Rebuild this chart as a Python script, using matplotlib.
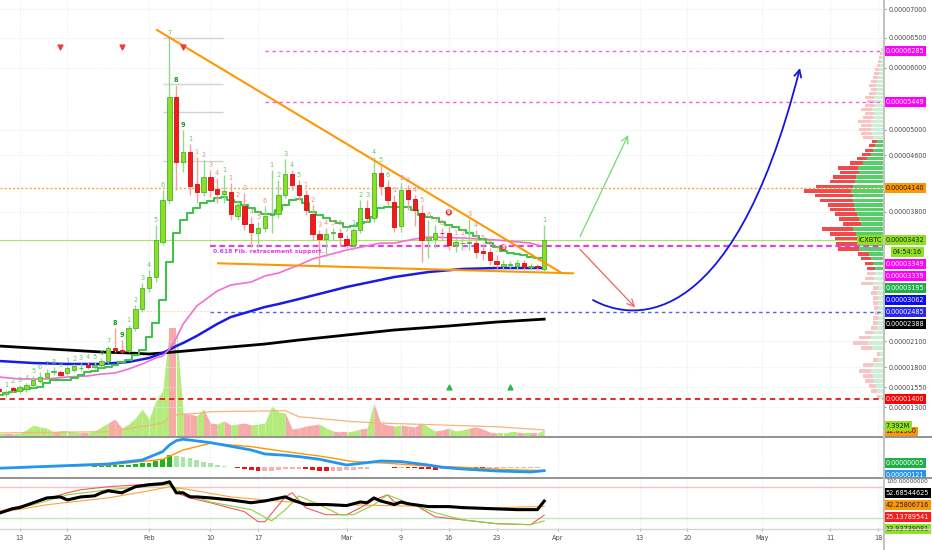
import numpy as np
import pandas as pd
import matplotlib
matplotlib.use("Agg")
import matplotlib.pyplot as plt
import matplotlib.dates as mdates
from matplotlib import font_manager
from matplotlib.lines import Line2D
from matplotlib.patches import FancyArrowPatch, Rectangle
from matplotlib.path import Path
from matplotlib.ticker import FixedLocator, FuncFormatter, NullLocator
from matplotlib.transforms import blended_transform_factory

W, H = 932, 550

avail = {f.name for f in font_manager.fontManager.ttflist}
if "Liberation Sans Narrow" in avail:
    FONT, FS = "Liberation Sans Narrow", 5.8
else:
    FONT, FS = "DejaVu Sans", 4.7
plt.rcParams["font.family"] = FONT

# ---------------- data: ICX/BTC daily, prices in satoshi (1e-8 BTC) ----------------
dates = pd.date_range("2020-01-10", "2020-03-30", freq="D")
opens = [1525, 1459, 1534, 1504, 1521, 1575, 1625, 1679, 1738, 1741,
         1721, 1762, 1784, 1819, 1804, 1820, 1873, 2016, 1996, 1996,
         2267, 2522, 2798, 2943, 3405, 3968, 5532, 4502, 4648, 4193,
         4081, 4291, 4123, 4053, 4081, 3747, 3884, 3642, 3523, 3589,
         3760, 3774, 4039, 4333, 4179, 4039, 3774, 3510, 3444, 3517,
         3523, 3444, 3365, 3563, 3856, 3721, 4347, 4151, 3940, 3615,
         4109, 3983, 3787, 3431, 3444, 3523, 3523, 3365, 3391, 3391,
         3391, 3286, 3273, 3154, 3088, 3095, 3088, 3128, 3075, 3082,
         3049]
highs = [1550, 1512, 1562, 1575, 1600, 1688, 1738, 1775, 1803, 1762,
         1812, 1835, 1846, 1858, 1858, 1904, 2042, 2271, 2113, 2311,
         2574, 2864, 3036, 3629, 4109, 6500, 5726, 5000, 4776, 4572,
         4530, 4389, 4277, 4319, 4207, 3968, 4067, 3734, 3668, 3884,
         4389, 4249, 4544, 4389, 4249, 4109, 3898, 3563, 3589, 3589,
         3589, 3497, 3589, 3968, 3968, 4572, 4460, 4249, 4039, 4207,
         4179, 4039, 3898, 3695, 3629, 3589, 3629, 3457, 3457, 3708,
         3563, 3391, 3326, 3233, 3167, 3154, 3167, 3167, 3128, 3115,
         3629]
lows = [1475, 1425, 1487, 1475, 1487, 1550, 1600, 1662, 1700, 1675,
        1700, 1738, 1750, 1769, 1775, 1800, 1846, 1973, 1962, 1973,
        2232, 2482, 2746, 2878, 3365, 3926, 4109, 4361, 4039, 3926,
        4025, 4011, 3926, 3926, 3695, 3695, 3563, 3339, 3339, 3536,
        3523, 3721, 3997, 4109, 3968, 3760, 3431, 3075, 3207, 3431,
        3365, 3299, 3299, 3523, 3668, 3668, 4039, 3898, 3536, 3536,
        3828, 3615, 3141, 3194, 3326, 3431, 3299, 3273, 3299, 3299,
        3194, 3167, 3101, 3062, 3049, 3062, 3049, 3036, 3036, 3036,
        3022]
closes = [1500, 1491, 1512, 1546, 1575, 1634, 1679, 1729, 1744, 1700,
          1784, 1815, 1791, 1796, 1823, 1873, 2016, 1996, 1977, 2267,
          2522, 2798, 2943, 3431, 3968, 5532, 4502, 4648, 4165, 4081,
          4291, 4109, 4053, 4095, 3774, 3898, 3642, 3536, 3589, 3747,
          3774, 4039, 4333, 4179, 4039, 3828, 3510, 3444, 3510, 3530,
          3470, 3365, 3563, 3856, 3721, 4347, 4165, 3968, 3602, 4109,
          3983, 3828, 3431, 3457, 3523, 3517, 3365, 3405, 3398, 3405,
          3273, 3260, 3167, 3115, 3115, 3115, 3128, 3075, 3082, 3069,
          3432]
volumes = [2.5, 2.5, 2.5, 3.7, 7.4, 13.5, 11.1, 9.8, 4.9, 6.2,
           6.2, 4.9, 3.7, 3.7, 6.2, 11.1, 16.0, 20.9, 9.8, 14.8,
           22.1, 33.2, 20.9, 43.1, 55.4, 132.8, 132.8, 28.3, 27.1, 24.6,
           33.2, 16.0, 14.8, 18.5, 13.5, 14.8, 16.0, 13.5, 14.8, 16.0,
           36.9, 29.5, 28.3, 8.6, 9.8, 12.3, 13.5, 14.8, 9.8, 6.2,
           4.9, 4.9, 6.2, 8.6, 9.8, 40.6, 16.0, 13.5, 12.3, 13.5,
           12.3, 11.1, 16.0, 11.1, 6.2, 7.4, 9.8, 6.2, 7.4, 9.8,
           11.1, 8.6, 4.9, 3.7, 3.7, 4.9, 4.9, 3.7, 3.7, 3.7,
           7.392]
# green step line (baseline)
trail = [1450, 1475, 1488, 1512, 1525, 1538, 1550, 1600, 1638, 1638,
         1638, 1662, 1700, 1738, 1750, 1788, 1800, 1823, 1858, 1881,
         1938, 1996, 2152, 2337, 2640, 3141, 3523, 3695, 3787, 3856,
         3926, 3954, 3996, 4011, 3968, 3940, 3898, 3856, 3800, 3774,
         3774, 3828, 3898, 3968, 3982, 3926, 3800, 3760, 3721, 3681,
         3655, 3602, 3616, 3655, 3668, 3734, 3856, 3870, 3870, 3870,
         3870, 3828, 3760, 3734, 3721, 3668, 3629, 3602, 3563, 3523,
         3484, 3444, 3391, 3339, 3286, 3260, 3247, 3233, 3207, 3195,
         3195]
# sequential counts shown over the candles (g = green, G = bold green, r = red, R = circled red)
td_marks = ["", "g1", "g2", "g3", "g4", "g5", "g6", "g7", "g8", "g9",
            "g1", "g2", "g3", "g4", "g5", "g6", "g7", "G8", "G9",
            "g1", "g2", "g3", "g4", "g5", "g6", "g7", "G8", "G9",
            "g1", "r1", "r2", "r3", "r4", "g1", "r1", "r2", "r3", "r4", "r5", "r6",
            "g1", "g2", "g3", "g4", "g5",
            "r1", "r2", "r3", "r4", "r5", "r6", "r7",
            "g1", "g2", "g3", "g4", "g5", "g6",
            "r1", "r2", "r3", "r4", "r5", "r6", "r7", "r8", "R9",
            "r1", "r2", "r3", "r4", "r5", "r6", "r7", "R8",
            "", "", "", "", "", "g1"]


def md(days):
    return pd.to_datetime(["2020-" + s for s in days])


pink_dates = md(["01-10", "01-13", "01-17", "01-20", "01-23", "01-25", "01-27", "01-29", "01-31",
                 "02-02", "02-03", "02-04", "02-05", "02-06", "02-08", "02-11", "02-13", "02-16",
                 "02-18", "02-20", "02-23", "02-25", "03-01", "03-06", "03-08", "03-11", "03-13",
                 "03-18", "03-23", "03-28", "03-30"])
pink_vals = [1675, 1650, 1650, 1675, 1688, 1712, 1725, 1775, 1835, 1904, 1927, 2008, 2139, 2324,
             2561, 2759, 2838, 2877, 2957, 2996, 3101, 3181, 3299, 3391, 3391, 3444, 3470, 3457,
             3431, 3391, 3339]
blue_dates = md(["01-10", "01-15", "01-20", "01-25", "01-29", "02-01", "02-03", "02-05", "02-06",
                 "02-08", "02-11", "02-13", "02-16", "02-18", "02-20", "02-23", "03-01", "03-08",
                 "03-13", "03-18", "03-23", "03-30"])
blue_vals = [1869, 1846, 1835, 1835, 1858, 1904, 1962, 2042, 2077, 2166, 2324, 2416, 2495, 2548,
             2587, 2653, 2812, 2943, 3009, 3049, 3062, 3062]
black_dates = md(["01-10", "01-15", "01-20", "01-25", "01-29", "02-01", "02-03", "02-08", "02-13",
                  "02-18", "02-23", "03-01", "03-08", "03-16", "03-23", "03-30"])
black_vals = [2042, 2019, 1996, 1973, 1962, 1950, 1962, 1996, 2031, 2065, 2113, 2179, 2245, 2298,
              2350, 2388]

vol_ma_dates = md(["01-10", "01-26", "02-03", "02-04", "02-05", "02-08", "02-10", "02-21", "02-23",
                   "03-02", "03-07", "03-23", "03-30"])
vol_ma_vals = [3.7, 5.3, 15.6, 23.7, 26.0, 27.9, 29.9, 31.1, 23.7, 17.6, 15.6, 11.4, 7.4]

# MACD (satoshi)
hist = [3, 3, 3, 3, 3, 4, 4, 4, 4, 4,
        4, 4, 4, 6, 8, 12, 16, 16, 16, 20,
        24, 32, 36, 48, 64, 96, 88, 80, 72, 56,
        44, 32, 20, 10, 2, -8, -16, -24, -32, -32,
        -28, -24, -16, -12, -12, -16, -24, -28, -32, -32,
        -28, -24, -24, -16, -12, 4, 6, 4, -4, -4,
        -6, -8, -12, -16, -18, -16, -16, -12, -10, -8,
        -10, -12, -12, -10, -8, -6, -5, -4, -3, -2,
        5]
macd_dates = md(["01-10", "01-26", "01-31", "02-03", "02-04", "02-05", "02-06", "02-10", "02-16",
                 "02-18", "02-21", "02-23", "02-26", "03-01", "03-04", "03-06", "03-09", "03-13",
                 "03-15", "03-18", "03-23", "03-28", "03-30"])
macd_vals = [-8, 26, 58, 125, 178, 213, 224, 197, 138, 106, 96, 85, 64, 18, 37, 50, 45, 18, 0,
             -14, -30, -38, -27]
signal_dates = md(["01-10", "01-26", "02-03", "02-06", "02-10", "02-16", "02-21", "02-26", "03-02",
                   "03-07", "03-13", "03-18", "03-23", "03-30"])
signal_vals = [-8, 18, 64, 138, 192, 165, 125, 90, 45, 32, 10, 0, -16, -27]

# oscillator panel (0-100)
rsi_dates = md(["01-10", "01-12", "01-13", "01-15", "01-17", "01-19", "01-20", "01-22", "01-24",
                "01-25", "01-26", "01-28", "01-30", "02-01", "02-03", "02-04", "02-05", "02-06",
                "02-07", "02-08", "02-10", "02-13", "02-16", "02-18", "02-21", "02-22", "02-24",
                "02-27", "03-01", "03-03", "03-04", "03-05", "03-06", "03-08", "03-09", "03-10",
                "03-13", "03-16", "03-18", "03-22", "03-26", "03-29", "03-30"])
rsi_vals = [29, 38, 40, 49.5, 59, 61, 55, 61, 63, 69, 73, 69, 81, 85, 87, 90.6, 69, 69, 61, 61,
            59, 55, 49.5, 53, 61, 55, 46, 46, 44, 51, 49.5, 59, 53, 46, 51, 47.5, 42, 42, 40, 38,
            36, 36, 52.7]
k_dates = md(["01-10", "01-15", "01-20", "01-22", "01-26", "01-31", "02-04", "02-05", "02-07",
              "02-10", "02-15", "02-17", "02-18", "02-21", "02-22", "02-24", "02-27", "03-01",
              "03-03", "03-05", "03-07", "03-08", "03-11", "03-14", "03-18", "03-23", "03-28",
              "03-30"])
k_vals = [32.5, 49.5, 69, 75, 81, 85, 88.6, 69, 59, 49.5, 32, 12.3, 12.3, 61, 69, 39.7, 26, 26,
          39.7, 55, 65, 51, 45.6, 22, 16, 8.4, 6.5, 25.1]
d_dates = md(["01-10", "01-15", "01-20", "01-26", "01-31", "02-04", "02-06", "02-10", "02-16",
              "02-19", "02-21", "02-23", "02-26", "02-29", "03-02", "03-05", "03-07", "03-10",
              "03-14", "03-18", "03-23", "03-28", "03-30"])
d_vals = [32, 45.6, 65, 75, 81, 85, 69, 51, 35.8, 14, 35.8, 63, 45.6, 26, 26, 45.6, 65, 49.5, 30,
          16, 8.4, 6.5, 13.9]
rsi_ma_dates = md(["01-10", "01-17", "01-26", "02-01", "02-04", "02-07", "02-13", "02-21", "03-01",
                   "03-08", "03-16", "03-23", "03-30"])
rsi_ma_vals = [30, 45.6, 59, 73, 81, 75, 61, 51.5, 45.6, 43.6, 41.7, 39.7, 42.3]

# visible range volume profile
vp_price = np.arange(1365, 6306, 65)
vp_total = [0, 6, 12, 14, 18, 20, 24, 20, 10, 6,
            22, 30, 24, 18, 12, 10, 10, 8, 9, 10,
            10, 12, 10, 22, 18, 16, 16, 18, 22, 25,
            45, 47, 48, 53, 61, 40, 44, 48, 53, 55,
            63, 68, 80, 67, 53, 50, 43, 45, 33, 26,
            21, 18, 14, 11, 20, 22, 24, 22, 25, 20,
            18, 22, 18, 16, 18, 14, 12, 14, 12, 10,
            9, 8, 6, 5, 4, 3, 2]
vp_up = [0, 3, 6, 7, 9, 10, 12, 10, 5, 3,
         11, 15, 12, 9, 6, 5, 5, 4, 5, 5,
         5, 6, 5, 10, 9, 8, 8, 10, 12, 14,
         24, 25, 26, 27, 30, 22, 24, 26, 28, 29,
         30, 30, 32, 30, 28, 27, 24, 25, 20, 16,
         12, 10, 8, 6, 10, 11, 12, 11, 12, 10,
         9, 11, 9, 8, 9, 7, 6, 7, 6, 5,
         4, 4, 3, 2, 2, 1, 1]
va_low, va_high = 3050, 4820

# drawn levels and tools
fib_level = 3349
target_levels = [6285, 5449]
poc_level = 4140
support_level = 2485
floor_level = 1400
spike_levels = [6500, 5742, 5290, 4516]
upper_tl = (["2020-02-02 04:00", "2020-04-01 08:00"], [6638, 3009])
lower_tl = (["2020-02-11 03:00", "2020-04-03 05:00"], [3124, 2992])
green_arrow = (("2020-04-04 06:00", 3474), ("2020-04-11 08:00", 4920))
red_arrow = (("2020-04-04 06:00", 3308), ("2020-04-12 08:00", 2544))
curve_dates = ["2020-04-06 04:00", "2020-04-10 21:00", "2020-04-26 06:00", "2020-05-06 13:00"]
curve_prices = [2640, 2403, 2054, 6000]
sell_signals = ["2020-01-19", "2020-01-28", "2020-02-06"]
buy_signals = ["2020-03-16", "2020-03-25"]

price_ticks = [7000, 6500, 6000, 5000, 4600, 3800, 2100, 1800, 1550, 1300]
date_ticks = pd.to_datetime(["2020-01-13", "2020-01-20", "2020-02-01", "2020-02-10", "2020-02-17",
                             "2020-03-01", "2020-03-09", "2020-03-16", "2020-03-23", "2020-04-01",
                             "2020-04-13", "2020-04-20", "2020-05-01", "2020-05-11", "2020-05-18"])
date_labels = ["13", "20", "Feb", "10", "17", "Mar", "9", "16", "23", "Apr", "13", "20", "May", "11", "18"]

# price axis as TradingView draws it (tick price -> distance from top of the pane)
scale_price = [500, 1300, 1550, 1800, 2100, 3800, 4600, 5000, 6000, 6500, 7000, 8000]
scale_pos = [-471, -407, -387, -367, -341, -212, -155, -130, -68, -38, -9, 49]


def fwd(p):
    return np.interp(p, scale_price, scale_pos)


def inv(v):
    return np.interp(v, scale_pos, scale_price)


def dn(s):
    return mdates.date2num(pd.to_datetime(s))


# ---------------- figure ----------------
fig = plt.figure(figsize=(W / 100, H / 100), dpi=100)
fig.patch.set_facecolor("white")


def fbox(top, bottom):
    return [0, 1 - bottom / H, 883 / W, (bottom - top) / H]


ax = fig.add_axes(fbox(0, 436))
axv = fig.add_axes(fbox(286, 436), sharex=ax)
axm = fig.add_axes(fbox(437, 477), sharex=ax)
axs = fig.add_axes(fbox(477, 528), sharex=ax)
axv.set_zorder(1)
ax.set_zorder(2)
ax.patch.set_visible(False)
axv.patch.set_visible(False)
for a in (ax, axv, axm, axs):
    for s in a.spines.values():
        s.set_visible(False)
    a.tick_params(left=False, right=False, bottom=False, labelleft=False, labelbottom=False)

ax.set_yscale("function", functions=(fwd, inv))

x = mdates.date2num(dates)
x0 = mdates.date2num(pd.Timestamp("2020-01-13")) - 19.6 / 6.813
x1 = x0 + 883 / 6.813
tick_x = mdates.date2num(date_ticks)

grid_kw = dict(color="#E2EEED", lw=0.8, ls=(0, (1, 1.5)), zorder=0)
for t in tick_x:
    for a in (ax, axm, axs):
        a.axvline(t, **grid_kw)
for p in price_ticks:
    ax.axhline(p, **grid_kw)

o, h, l, c = map(np.asarray, (opens, highs, lows, closes))
up = c >= o

# volume profile on the right edge
trans = blended_transform_factory(ax.transAxes, ax.transData)
tot, vup = np.asarray(vp_total, float), np.asarray(vp_up, float)
k = 0.09 / tot.max()
in_va = (vp_price >= va_low) & (vp_price <= va_high)
ax.barh(vp_price, -vup * k, left=1.0, height=48, color=np.where(in_va, "#55CF68", "#CDEFD5"),
        transform=trans, zorder=2)
ax.barh(vp_price, -(tot - vup) * k, left=1.0 - vup * k, height=48,
        color=np.where(in_va, "#F2494B", "#F8C5C7"), transform=trans, zorder=2)

# horizontal levels
ax.hlines(target_levels, dn("2020-02-18"), x1, colors="#F25CF2", lw=1.0, linestyles=(0, (2.5, 2.5)), zorder=3)
ax.hlines(poc_level, x0, x1, colors="#FFA040", lw=1.0, linestyles=(0, (1.5, 1.5)), zorder=3)
ax.hlines(fib_level, dn("2020-02-09 23:00"), x1, colors="#E83CE8", lw=1.6, linestyles=(0, (2.6, 1.6)), zorder=3)
ax.hlines(support_level, dn("2020-02-09 23:00"), x1, colors="#5A5AF0", lw=1.0, linestyles=(0, (2.5, 2.5)), zorder=3)
ax.hlines(floor_level, x0, x1, colors="#E21A1A", lw=1.3, linestyles=(0, (3, 2.2)), zorder=3)
ax.hlines(spike_levels, dn("2020-02-03 01:00"), dn("2020-02-11 21:00"), colors="#D2D2D2", lw=1.0, zorder=3)
ax.hlines(support_level + 10, dn("2020-01-30 16:00"), dn("2020-02-09 23:00"), colors="#FFD0A8", lw=0.8,
          linestyles=(0, (1.5, 1.5)), zorder=3)
ax.axhline(closes[-1], color="#AEE35C", lw=0.8, zorder=3)

# moving averages and step line
ax.plot(mdates.date2num(black_dates), black_vals, color="#000000", lw=2.0, zorder=4)
ax.plot(mdates.date2num(blue_dates), blue_vals, color="#1A1AE6", lw=1.8, zorder=4)
ax.plot(mdates.date2num(pink_dates), pink_vals, color="#F36DD8", lw=1.2, zorder=4)
ax.step(x, trail, where="mid", color="#41C24A", lw=1.5, zorder=5)

# candles
ax.vlines(x, l, h, colors=list(np.where(up, "#93D98A", "#F3A0A0")), lw=1, zorder=6)
ax.bar(x, np.abs(c - o), bottom=np.minimum(o, c), width=0.64,
       color=list(np.where(up, "#8BE11F", "#F21B1B")),
       edgecolor=list(np.where(up, "#46B33A", "#D01010")), lw=0.6, zorder=7)

# trend lines
ax.plot(dn(upper_tl[0]), upper_tl[1], color="#FF9800", lw=1.5, zorder=8)
ax.plot(dn(lower_tl[0]), lower_tl[1], color="#FF9800", lw=1.5, zorder=8)

# projection arrows
for (t0, p0), (t1, p1), col in ((green_arrow[0], green_arrow[1], "#6FDC6F"),
                                (red_arrow[0], red_arrow[1], "#F26262")):
    ax.annotate("", xy=(dn(t1), p1), xytext=(dn(t0), p0),
                arrowprops=dict(arrowstyle="->,head_length=0.5,head_width=0.25", color=col, lw=0.9,
                                shrinkA=0, shrinkB=0), zorder=8)
curve = Path(list(zip(dn(curve_dates), curve_prices)), [Path.MOVETO, Path.CURVE4, Path.CURVE4, Path.CURVE4])
ax.add_patch(FancyArrowPatch(path=curve, arrowstyle="->,head_length=0.5,head_width=0.25", mutation_scale=10,
                             color="#1515E0", lw=1.3, transform=ax.transData, zorder=8))

# fib text
ax.text(dn("2020-02-10 10:00"), 3273, "0.618 Fib. retracement support.", color="#E040E0",
        fontsize=FS * 0.95, fontweight="bold", va="center", ha="left", zorder=9)

# sequential counts
for xi, hi, m in zip(x, h, td_marks):
    if not m:
        continue
    kind, num = m[0], m[1:]
    if kind == "R":
        ax.annotate(num, (xi, hi), xytext=(0, 9), textcoords="offset points", ha="center", va="center",
                    fontsize=FS * 0.8, color="white", fontweight="bold", zorder=9,
                    bbox=dict(boxstyle="circle,pad=0.12", fc="#F22A2A", ec="none"))
    else:
        col = {"g": "#66C866", "G": "#0F9D0F", "r": "#F08A8A"}[kind]
        ax.annotate(num, (xi, hi), xytext=(0, 1.5), textcoords="offset points", ha="center", va="bottom",
                    fontsize=FS, color=col, fontweight="bold" if kind == "G" else "normal", zorder=9)

# signal triangles
tr_top = blended_transform_factory(ax.transData, ax.transAxes)
ax.scatter(dn(sell_signals), [0.892] * len(sell_signals), marker="v", s=12, color="#F23A3A",
           transform=tr_top, zorder=9)
ax.scatter(dn(buy_signals), [0.112] * len(buy_signals), marker="^", s=12, color="#2DB84A",
           transform=tr_top, zorder=9)

# price axis
ax.yaxis.tick_right()
ax.yaxis.set_major_locator(FixedLocator(price_ticks))
ax.yaxis.set_minor_locator(NullLocator())
ax.yaxis.set_major_formatter(FuncFormatter(lambda v, pos: f"{v * 1e-8:.8f}"))
ax.tick_params(axis="y", right=True, labelright=True, length=2.2, width=0.8, color="#9598A1",
               pad=1.8, labelsize=FS, labelcolor="#4A4A4A")
ax.set_ylim(inv(-436), inv(0))

# volume overlay
vol = np.asarray(volumes)
vcol = np.where(up, "#B4EC7B", "#F6AAAA")
for i in range(1, len(x)):
    axv.fill_between(x[i - 1:i + 1], vol[i - 1:i + 1], color=vcol[i], lw=0)
axv.plot(mdates.date2num(vol_ma_dates), vol_ma_vals, color="#F8B27A", lw=0.9)
axv.set_ylim(0, 150 * 1.23)
axv.set_axis_off()

# MACD
hv = np.asarray(hist, float)
prev = np.r_[hv[0], hv[:-1]]
hcol = np.where(hv >= 0, np.where(hv >= prev, "#1DB41D", "#A9E5A9"),
                np.where(hv < prev, "#F01010", "#F7AFAF"))
axm.bar(x, hv, width=0.7, color=list(hcol))
axm.plot(mdates.date2num(signal_dates), signal_vals, color="#FF9800", lw=1.0)
axm.plot(mdates.date2num(macd_dates), macd_vals, color="#2196F3", lw=2.0)
axm.set_ylim(-78, 242)

# oscillators
axs.axhline(80, color="#F7C3C3", lw=1)
axs.axhline(20, color="#BFE8BF", lw=1)
axs.plot(mdates.date2num(rsi_ma_dates), rsi_ma_vals, color="#FFA040", lw=0.8)
axs.plot(mdates.date2num(k_dates), k_vals, color="#F45B5B", lw=0.8)
axs.plot(mdates.date2num(d_dates), d_vals, color="#94CF3A", lw=0.8)
axs.plot(mdates.date2num(rsi_dates), rsi_vals, color="#000000", lw=2.2)
axs.set_ylim(0, 100)

axs.set_xticks(tick_x)
axs.set_xticklabels(date_labels)
axs.tick_params(axis="x", bottom=True, labelbottom=True, length=2.2, width=0.8, color="#B0B0B0",
                pad=3, labelsize=FS, labelcolor="#4A4A4A")
ax.set_xlim(x0, x1)


# ---------------- right-hand value tags ----------------
def ypix(a, val):
    return H - a.transData.transform((x0, val))[1]


def tag(y, text, fc, tc, xp=885.5, ha="left", z=10):
    fig.text(xp / W, 1 - y / H, text, ha=ha, va="center", fontsize=FS, color=tc, zorder=z,
             bbox=dict(boxstyle="square,pad=0.3", fc=fc, ec="none"))


def push_down(ys, gap=12):
    out = []
    for y in ys:
        if out and y < out[-1] + gap:
            y = out[-1] + gap
        out.append(y)
    return out


def spread(ys, gap=12):
    groups = [[y] for y in ys]

    def pos(g):
        m = np.mean(g)
        return [m + (i - (len(g) - 1) / 2) * gap for i in range(len(g))]

    merged = True
    while merged:
        merged = False
        for i in range(len(groups) - 1):
            if pos(groups[i])[-1] + gap > pos(groups[i + 1])[0]:
                groups[i] += groups.pop(i + 1)
                merged = True
                break
    return [p for g in groups for p in pos(g)]


main_tags = [(target_levels[0], "#FF00FF", "white"), (target_levels[1], "#FF00FF", "white"),
             (poc_level, "#FF9800", "#1E1E1E"), (closes[-1], "#8FE122", "#1E1E1E"),
             (fib_level, "#FF00FF", "white"), (pink_vals[-1], "#FF00FF", "white"),
             (trail[-1], "#1FB04A", "white"), (blue_vals[-1], "#0B0BF2", "white"),
             (support_level, "#2828F0", "white"), (black_vals[-1], "#000000", "white"),
             (floor_level, "#FF0000", "white")]
items = []
for v, fc, tc in main_tags:
    items.append((ypix(ax, v), f"{v * 1e-8:.8f}", fc, tc, 885.5))
    if v == closes[-1]:
        items.append((ypix(ax, v) + 0.01, "04:54:16", fc, tc, 893))
items.sort(key=lambda it: it[0])
for it, y in zip(items, push_down([it[0] for it in items])):
    tag(y, it[1], it[2], it[3], it[4])
tag(ypix(ax, closes[-1]), "ICXBTC", "#8FE122", "#1E1E1E", xp=882, ha="right")

# volume tags
yv = ypix(axv, volumes[-1])
tag(yv + 1.5, "12.61360", "#FF9800", "#1E1E1E")
tag(yv - 4, f"{volumes[-1]:.3f}M", "#8FE122", "#1E1E1E")

# MACD tags
ym = spread([ypix(axm, hist[-1]), ypix(axm, macd_vals[-1])])
tag(ym[0], "0.00000005", "#1FB04A", "white")
tag(ym[1], "0.00000121", "#2196F3", "white")

# oscillator tags
osc = [(rsi_vals[-1], "52.68544625", "#000000", "white"), (rsi_ma_vals[-1], "42.25806716", "#FF9800", "#1E1E1E"),
       (k_vals[-1], "25.13789541", "#FF1A1A", "white"), (d_vals[-1], "13.93739081", "#8FE122", "#1E1E1E")]
ys = spread([ypix(axs, v[0]) for v in osc])
for (v, t, fc, tc), y in zip(osc, ys):
    tag(y, t, fc, tc)

fig.add_artist(Rectangle((884 / W, 1 - 486 / H), 48 / W, 8.5 / H, transform=fig.transFigure,
                         fc="white", ec="none", zorder=11))
fig.text(886 / W, 1 - 481.5 / H, "100.00000000", ha="left", va="center", fontsize=FS * 0.88,
         color="#4A4A4A", zorder=12)

# pane separators and scale border
for yy, col, lw in ((436.5, "#8A8A8A", 1.3), (477.5, "#8A8A8A", 1.3), (528.5, "#D4D4D4", 1.0)):
    fig.add_artist(Line2D([0, 1], [1 - yy / H] * 2, transform=fig.transFigure, color=col, lw=lw, zorder=13))
fig.add_artist(Line2D([883.5 / W] * 2, [0, 1], transform=fig.transFigure, color="#C3C3C3", lw=1.4, zorder=13))

fig.savefig("out.png", dpi=100)
